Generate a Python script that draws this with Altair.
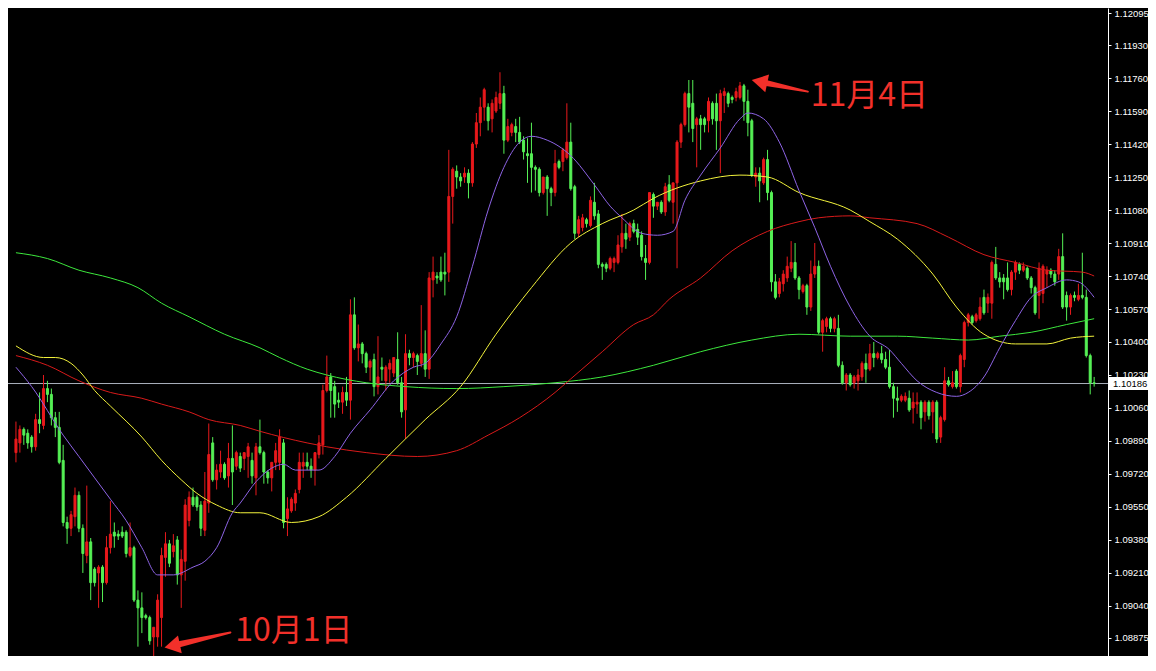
import altair as alt
import pandas as pd

# ---------------- candle data (EUR/USD style quotes) ----------------
open_ = [
    1.0983, 1.0988, 1.0995, 1.0993, 1.0991, 1.0986, 1.1000, 1.0997, 1.1016, 1.1013,
    1.1001, 1.0996, 1.0979, 1.0947, 1.0944, 1.0950, 1.0961, 1.0944, 1.0930, 1.0937,
    1.0923, 1.0921, 1.0924, 1.0916, 1.0934, 1.0942, 1.0941, 1.0942, 1.0942, 1.0930,
    1.0934, 1.0907, 1.0903, 1.0899, 1.0898, 1.0888, 1.0888, 1.0898, 1.0929, 1.0936,
    1.0932, 1.0938, 1.0920, 1.0927, 1.0948, 1.0960, 1.0960, 1.0956, 1.0943, 1.0957,
    1.0988, 1.0969, 1.0973, 1.0977, 1.0971, 1.0980, 1.0976, 1.0981, 1.0980, 1.0981,
    1.0979, 1.0970, 1.0986, 1.0983, 1.0973, 1.0970, 1.0978, 1.0978, 1.0988, 1.0949,
    1.0953, 1.0957, 1.0964, 1.0976, 1.0978, 1.0976, 1.0974, 1.0982, 1.0987, 1.1015,
    1.1022, 1.1017, 1.1010, 1.1009, 1.1014, 1.1010, 1.1054, 1.1037, 1.1039, 1.1034,
    1.1027, 1.1031, 1.1017, 1.1027, 1.1020, 1.1026, 1.1024, 1.1031, 1.1019, 1.1005,
    1.1034, 1.1032, 1.1033, 1.1029, 1.1034, 1.1026, 1.1072, 1.1074, 1.1076, 1.1076,
    1.1076, 1.1115, 1.1128, 1.1125, 1.1125, 1.1127, 1.1122, 1.1142, 1.1153, 1.1161,
    1.1161, 1.1155, 1.1159, 1.1163, 1.1168, 1.1144, 1.1148, 1.1151, 1.1148, 1.1144,
    1.1137, 1.1137, 1.1130, 1.1129, 1.1117, 1.1125, 1.1119, 1.1117, 1.1133, 1.1133,
    1.1135, 1.1143, 1.1120, 1.1096, 1.1099, 1.1103, 1.1100, 1.1112, 1.1106, 1.1080,
    1.1080, 1.1078, 1.1081, 1.1081, 1.1089, 1.1096, 1.1094, 1.1101, 1.1098, 1.1095,
    1.1083, 1.1081, 1.1116, 1.1110, 1.1112, 1.1107, 1.1121, 1.1112, 1.1122, 1.1143,
    1.1152, 1.1168, 1.1163, 1.1152, 1.1155, 1.1155, 1.1154, 1.1163, 1.1163, 1.1154,
    1.1167, 1.1168, 1.1166, 1.1166, 1.1166, 1.1172, 1.1164, 1.1154, 1.1125, 1.1127,
    1.1122, 1.1134, 1.1117, 1.1071, 1.1065, 1.1070, 1.1073, 1.1078, 1.1081, 1.1073,
    1.1066, 1.1069, 1.1058, 1.1075, 1.1079, 1.1045, 1.1048, 1.1052, 1.1047, 1.1047,
    1.1028, 1.1019, 1.1023, 1.1019, 1.1020, 1.1022, 1.1029, 1.1026, 1.1034, 1.1032,
    1.1034, 1.1031, 1.1027, 1.1017, 1.1011, 1.1010, 1.1010, 1.1011, 1.1006, 1.1008,
    1.1009, 1.1004, 1.1009, 1.1004, 1.1009, 1.0991, 1.1000, 1.1020, 1.1017, 1.1025,
    1.1017, 1.1031, 1.1050, 1.1053, 1.1051, 1.1052, 1.1063, 1.1060, 1.1060, 1.1080,
    1.1073, 1.1073, 1.1073, 1.1067, 1.1076, 1.1080, 1.1077, 1.1078, 1.1073, 1.1068,
    1.1064, 1.1065, 1.1075, 1.1077, 1.1075, 1.1075, 1.1084, 1.1064, 1.1058, 1.1064,
    1.1062, 1.1064, 1.1063, 1.1033, 1.1019,
]
high = [
    1.0999, 1.0997, 1.0996, 1.0995, 1.0992, 1.1003, 1.1014, 1.1023, 1.1020, 1.1016,
    1.1004, 1.1004, 1.0987, 1.0950, 1.0953, 1.0965, 1.0963, 1.0946, 1.0966, 1.0939,
    1.0924, 1.0925, 1.0925, 1.0940, 1.0958, 1.0947, 1.0943, 1.0945, 1.0943, 1.0947,
    1.0935, 1.0912, 1.0911, 1.0900, 1.0899, 1.0893, 1.0910, 1.0934, 1.0942, 1.0938,
    1.0941, 1.0940, 1.0933, 1.0959, 1.0963, 1.0965, 1.0961, 1.0958, 1.0973, 1.0998,
    1.0991, 1.0977, 1.0984, 1.0978, 1.0988, 1.0997, 1.0984, 1.0983, 1.0983, 1.0988,
    1.0983, 1.0988, 1.1000, 1.0984, 1.0974, 1.0978, 1.0988, 1.0995, 1.0990, 1.0960,
    1.0960, 1.0964, 1.0983, 1.0983, 1.0983, 1.0980, 1.0983, 1.0992, 1.1018, 1.1033,
    1.1024, 1.1020, 1.1014, 1.1017, 1.1022, 1.1062, 1.1063, 1.1049, 1.1040, 1.1035,
    1.1031, 1.1034, 1.1043, 1.1032, 1.1028, 1.1031, 1.1032, 1.1045, 1.1022, 1.1044,
    1.1036, 1.1035, 1.1034, 1.1059, 1.1046, 1.1076, 1.1084, 1.1076, 1.1084, 1.1086,
    1.1139, 1.1130, 1.1131, 1.1127, 1.1130, 1.1129, 1.1143, 1.1158, 1.1166, 1.1171,
    1.1163, 1.1165, 1.1169, 1.1179, 1.1172, 1.1155, 1.1153, 1.1155, 1.1156, 1.1146,
    1.1145, 1.1153, 1.1131, 1.1130, 1.1125, 1.1126, 1.1120, 1.1139, 1.1134, 1.1140,
    1.1163, 1.1153, 1.1121, 1.1105, 1.1106, 1.1104, 1.1115, 1.1122, 1.1108, 1.1081,
    1.1081, 1.1084, 1.1084, 1.1095, 1.1106, 1.1101, 1.1102, 1.1103, 1.1101, 1.1097,
    1.1090, 1.1117, 1.1117, 1.1112, 1.1113, 1.1122, 1.1126, 1.1122, 1.1144, 1.1153,
    1.1169, 1.1175, 1.1175, 1.1156, 1.1157, 1.1156, 1.1166, 1.1164, 1.1168, 1.1170,
    1.1171, 1.1169, 1.1167, 1.1171, 1.1174, 1.1173, 1.1170, 1.1155, 1.1130, 1.1130,
    1.1135, 1.1139, 1.1118, 1.1075, 1.1073, 1.1077, 1.1084, 1.1092, 1.1091, 1.1074,
    1.1070, 1.1070, 1.1082, 1.1091, 1.1082, 1.1052, 1.1053, 1.1053, 1.1053, 1.1054,
    1.1030, 1.1024, 1.1024, 1.1023, 1.1026, 1.1030, 1.1034, 1.1039, 1.1040, 1.1035,
    1.1038, 1.1035, 1.1036, 1.1019, 1.1017, 1.1013, 1.1014, 1.1015, 1.1014, 1.1014,
    1.1010, 1.1010, 1.1010, 1.1010, 1.1010, 1.1002, 1.1027, 1.1022, 1.1025, 1.1026,
    1.1034, 1.1051, 1.1055, 1.1054, 1.1055, 1.1063, 1.1067, 1.1065, 1.1082, 1.1089,
    1.1076, 1.1075, 1.1081, 1.1077, 1.1082, 1.1081, 1.1081, 1.1079, 1.1074, 1.1069,
    1.1081, 1.1080, 1.1079, 1.1078, 1.1077, 1.1088, 1.1096, 1.1066, 1.1065, 1.1066,
    1.1070, 1.1086, 1.1067, 1.1034, 1.1022,
]
low = [
    1.0978, 1.0983, 1.0987, 1.0985, 1.0983, 1.0984, 1.0993, 1.0995, 1.1009, 1.0997,
    1.0991, 1.0977, 1.0945, 1.0936, 1.0940, 1.0945, 1.0942, 1.0921, 1.0926, 1.0907,
    1.0914, 1.0903, 1.0906, 1.0915, 1.0931, 1.0934, 1.0938, 1.0939, 1.0929, 1.0929,
    1.0906, 1.0883, 1.0890, 1.0897, 1.0884, 1.0877, 1.0883, 1.0883, 1.0919, 1.0924,
    1.0929, 1.0915, 1.0903, 1.0917, 1.0945, 1.0955, 1.0953, 1.0940, 1.0940, 1.0952,
    1.0968, 1.0964, 1.0970, 1.0969, 1.0965, 1.0956, 1.0974, 1.0973, 1.0974, 1.0970,
    1.0967, 1.0961, 1.0982, 1.0967, 1.0967, 1.0963, 1.0974, 1.0974, 1.0944, 1.0940,
    1.0952, 1.0953, 1.0962, 1.0970, 1.0974, 1.0970, 1.0966, 1.0980, 1.0982, 1.1014,
    1.1001, 1.1001, 1.1006, 1.1003, 1.1007, 1.1000, 1.1036, 1.1030, 1.1029, 1.1024,
    1.1020, 1.1012, 1.1013, 1.1020, 1.1015, 1.1019, 1.1022, 1.1018, 1.1001, 1.0990,
    1.1028, 1.1027, 1.1023, 1.1027, 1.1022, 1.1021, 1.1063, 1.1070, 1.1071, 1.1064,
    1.1071, 1.1101, 1.1119, 1.1120, 1.1122, 1.1114, 1.1120, 1.1140, 1.1146, 1.1154,
    1.1149, 1.1148, 1.1158, 1.1160, 1.1137, 1.1143, 1.1146, 1.1143, 1.1142, 1.1134,
    1.1122, 1.1117, 1.1118, 1.1115, 1.1116, 1.1105, 1.1110, 1.1115, 1.1129, 1.1128,
    1.1134, 1.1118, 1.1093, 1.1094, 1.1097, 1.1099, 1.1099, 1.1103, 1.1078, 1.1072,
    1.1076, 1.1077, 1.1076, 1.1080, 1.1086, 1.1088, 1.1092, 1.1096, 1.1090, 1.1082,
    1.1072, 1.1080, 1.1104, 1.1108, 1.1106, 1.1105, 1.1112, 1.1101, 1.1078, 1.1140,
    1.1151, 1.1148, 1.1143, 1.1130, 1.1139, 1.1148, 1.1148, 1.1152, 1.1139, 1.1127,
    1.1158, 1.1161, 1.1163, 1.1164, 1.1165, 1.1154, 1.1146, 1.1125, 1.1120, 1.1112,
    1.1121, 1.1113, 1.1066, 1.1062, 1.1063, 1.1066, 1.1071, 1.1076, 1.1072, 1.1062,
    1.1065, 1.1054, 1.1056, 1.1073, 1.1044, 1.1035, 1.1045, 1.1045, 1.1045, 1.1027,
    1.1018, 1.1015, 1.1017, 1.1016, 1.1015, 1.1020, 1.1019, 1.1025, 1.1027, 1.1031,
    1.1029, 1.1026, 1.1016, 1.1001, 1.1004, 1.1009, 1.1009, 1.1004, 1.0998, 1.1003,
    1.0995, 1.0999, 1.1000, 1.0993, 1.0988, 1.0988, 1.0999, 1.1017, 1.1016, 1.1016,
    1.1014, 1.1027, 1.1048, 1.1049, 1.1050, 1.1051, 1.1054, 1.1055, 1.1052, 1.1072,
    1.1068, 1.1062, 1.1066, 1.1064, 1.1072, 1.1075, 1.1076, 1.1072, 1.1065, 1.1054,
    1.1052, 1.1060, 1.1068, 1.1073, 1.1069, 1.1072, 1.1057, 1.1051, 1.1054, 1.1061,
    1.1061, 1.1062, 1.1032, 1.1013, 1.1017,
]
close = [
    1.0990, 1.0995, 1.0992, 1.0988, 1.0986, 1.1000, 1.0998, 1.1016, 1.1013, 1.1001,
    1.0996, 1.0978, 1.0947, 1.0944, 1.0951, 1.0961, 1.0944, 1.0931, 1.0937, 1.0916,
    1.0916, 1.0924, 1.0916, 1.0934, 1.0941, 1.0940, 1.0940, 1.0940, 1.0931, 1.0934,
    1.0907, 1.0903, 1.0898, 1.0898, 1.0886, 1.0893, 1.0907, 1.0930, 1.0936, 1.0926,
    1.0935, 1.0920, 1.0928, 1.0956, 1.0960, 1.0956, 1.0955, 1.0944, 1.0958, 1.0982,
    1.0969, 1.0974, 1.0977, 1.0970, 1.0980, 1.0973, 1.0983, 1.0975, 1.0983, 1.0986,
    1.0971, 1.0986, 1.0983, 1.0973, 1.0970, 1.0978, 1.0984, 1.0991, 1.0947, 1.0954,
    1.0959, 1.0962, 1.0978, 1.0978, 1.0976, 1.0974, 1.0983, 1.0988, 1.1015, 1.1022,
    1.1015, 1.1008, 1.1009, 1.1014, 1.1010, 1.1054, 1.1037, 1.1039, 1.1034, 1.1027,
    1.1030, 1.1017, 1.1022, 1.1026, 1.1027, 1.1029, 1.1032, 1.1019, 1.1004, 1.1034,
    1.1032, 1.1034, 1.1030, 1.1034, 1.1026, 1.1073, 1.1076, 1.1073, 1.1072, 1.1075,
    1.1115, 1.1129, 1.1125, 1.1123, 1.1127, 1.1122, 1.1142, 1.1153, 1.1161, 1.1170,
    1.1154, 1.1163, 1.1166, 1.1168, 1.1144, 1.1151, 1.1152, 1.1148, 1.1143, 1.1138,
    1.1136, 1.1130, 1.1129, 1.1117, 1.1125, 1.1119, 1.1117, 1.1132, 1.1130, 1.1139,
    1.1143, 1.1119, 1.1096, 1.1103, 1.1104, 1.1101, 1.1113, 1.1105, 1.1080, 1.1079,
    1.1078, 1.1083, 1.1083, 1.1090, 1.1096, 1.1093, 1.1101, 1.1097, 1.1094, 1.1084,
    1.1081, 1.1117, 1.1110, 1.1112, 1.1107, 1.1120, 1.1113, 1.1122, 1.1143, 1.1152,
    1.1168, 1.1161, 1.1150, 1.1155, 1.1152, 1.1152, 1.1164, 1.1155, 1.1154, 1.1168,
    1.1169, 1.1163, 1.1165, 1.1169, 1.1172, 1.1164, 1.1153, 1.1126, 1.1127, 1.1123,
    1.1134, 1.1117, 1.1071, 1.1063, 1.1071, 1.1075, 1.1079, 1.1081, 1.1073, 1.1067,
    1.1069, 1.1058, 1.1075, 1.1079, 1.1045, 1.1051, 1.1052, 1.1047, 1.1052, 1.1028,
    1.1019, 1.1023, 1.1018, 1.1022, 1.1023, 1.1029, 1.1026, 1.1034, 1.1032, 1.1034,
    1.1031, 1.1027, 1.1017, 1.1011, 1.1010, 1.1012, 1.1012, 1.1005, 1.1009, 1.1009,
    1.1001, 1.1009, 1.1002, 1.1009, 1.0990, 1.1001, 1.1020, 1.1018, 1.1019, 1.1017,
    1.1033, 1.1050, 1.1054, 1.1050, 1.1054, 1.1058, 1.1055, 1.1063, 1.1081, 1.1073,
    1.1071, 1.1071, 1.1067, 1.1076, 1.1081, 1.1077, 1.1079, 1.1073, 1.1068, 1.1055,
    1.1078, 1.1079, 1.1077, 1.1075, 1.1071, 1.1084, 1.1058, 1.1058, 1.1064, 1.1063,
    1.1064, 1.1063, 1.1033, 1.1019, 1.10186,
]

# ---------------- moving averages ----------------
ma_purple_i = [0, 4, 12, 16, 20, 24, 28, 32, 36, 40, 45, 48, 51, 55, 57, 61, 65, 68, 71, 77,
               81, 85, 90, 96, 101, 104, 108, 112, 116, 120, 124, 128, 131, 135, 141, 147, 151, 154, 159, 163,
               167, 170, 174, 179, 184, 186, 190, 194, 199, 203, 207, 212, 217, 222, 225, 229, 234, 239, 242, 246,
               250, 254, 258, 262, 267, 270, 274]
ma_purple = [1.1027, 1.1017, 1.0992, 1.0981, 1.0970, 1.0959, 1.0948, 1.0934, 1.0920, 1.0920,
             1.0924, 1.0927, 1.0934, 1.0952, 1.0957, 1.0968, 1.0975, 1.0977, 1.0974, 1.0974,
             1.0981, 1.0993, 1.1005, 1.1020, 1.1027, 1.1029, 1.1039, 1.1053, 1.1079, 1.1108,
             1.1130, 1.1143, 1.1146, 1.1144, 1.1136, 1.1121, 1.1110, 1.1104, 1.1096, 1.1095,
             1.1097, 1.1113, 1.1126, 1.1140, 1.1155, 1.1158, 1.1155, 1.1143, 1.1118, 1.1099,
             1.1079, 1.1058, 1.1043, 1.1036, 1.1029, 1.1020, 1.1014, 1.1012, 1.1014, 1.1022,
             1.1037, 1.1051, 1.1063, 1.1068, 1.1072, 1.1071, 1.1063]

ma_yellow_i = [0, 7, 10, 14, 17, 20, 24, 32, 37, 42, 46, 51, 57, 62, 70, 77, 84, 94, 104, 113,
               122, 131, 141, 149, 157, 162, 174, 184, 191, 199, 212, 217, 224, 233, 239, 246, 254, 262, 268, 274]
ma_yellow = [1.1038, 1.1032, 1.1032, 1.1029, 1.1023, 1.1015, 1.1007, 1.0991, 1.0979, 1.0969,
             1.0962, 1.0956, 1.0952, 1.0952, 1.0947, 1.0950, 1.0960, 1.0980, 1.1000, 1.1017,
             1.1044, 1.1068, 1.1091, 1.1101, 1.1108, 1.1114, 1.1123, 1.1126, 1.1125, 1.1117,
             1.1108, 1.1102, 1.1093, 1.1075, 1.1058, 1.1044, 1.1039, 1.1039, 1.1042, 1.1043]

ma_red_i = [0, 8, 16, 24, 32, 37, 44, 49, 57, 62, 74, 79, 89, 102, 112, 120, 128, 137, 141, 149,
            157, 162, 166, 174, 182, 191, 199, 204, 212, 217, 229, 237, 246, 254, 262, 271, 274]
ma_red = [1.1033, 1.1028, 1.1020, 1.1014, 1.1011, 1.1008, 1.1004, 1.1000, 1.0997, 1.0994,
          1.0988, 1.0986, 1.0983, 1.0981, 1.0984, 1.0992, 1.1001, 1.1014, 1.1021, 1.1035,
          1.1049, 1.1054, 1.1062, 1.1073, 1.1087, 1.1097, 1.1102, 1.1104, 1.1105, 1.1104,
          1.1101, 1.1094, 1.1085, 1.1081, 1.1077, 1.1076, 1.1074]

ma_green_i = [0, 8, 16, 24, 31, 37, 44, 53, 62, 67, 74, 79, 89, 99, 112, 124, 137, 149, 162, 174,
              187, 199, 212, 224, 233, 242, 250, 258, 267, 274]
ma_green = [1.1086, 1.1083, 1.1077, 1.1073, 1.1068, 1.1060, 1.1053, 1.1044, 1.1037, 1.1032,
            1.1026, 1.1023, 1.1019, 1.1017, 1.1016, 1.1017, 1.1019, 1.1022, 1.1028, 1.1035,
            1.1041, 1.1044, 1.1043, 1.1043, 1.1042, 1.1041, 1.1043, 1.1045, 1.1049, 1.1052]

# ---------------- axis / annotations ----------------
tick_values = [1.12095, 1.11930, 1.11760, 1.11590, 1.11420, 1.11250, 1.11080, 1.10910,
               1.10740, 1.10570, 1.10400, 1.10230, 1.10060, 1.09890, 1.09720, 1.09550,
               1.09380, 1.09210, 1.09040, 1.08875]
last_price = 1.10186
last_label = "1.10186"
y_domain = [1.08782, 1.12121]
x_domain = [-0.75, 276.25]

note_labels = ["10月1日", "11月4日"]
note_i = [55.75, 202.0]
note_p = [1.0891, 1.11667]

arrow_id = ["a", "a", "b", "b"]
arrow_i = [41.75, 54.5, 190.75, 201.25]
arrow_p = [1.08844, 1.08903, 1.11734, 1.11690]
arrow_w = [6, 2, 6, 2]
head_i = [39.7, 188.95]
head_p = [1.08834, 1.11741]
head_angle = [348, 12]

RED = "#e8191c"
GREEN = "#55f055"
NOTE_RED = "#f2302a"

candles = pd.DataFrame({"i": list(range(len(close))), "open": open_, "high": high,
                        "low": low, "close": close})
candles["dir"] = ["up" if c > o else "down" for o, c in zip(open_, close)]

xs = alt.Scale(domain=x_domain, nice=False, zero=False)
ys = alt.Scale(domain=y_domain, nice=False, zero=False)
yaxis = alt.Axis(orient="right", values=tick_values, format=".5f", labelColor="#ffffff",
                 labelFont="Liberation Sans", labelFontSize=9.5, labelPadding=3,
                 tickColor="#ffffff", tickSize=3, domainColor="#ffffff", domainWidth=1,
                 grid=False, title=None, labelOverlap=False)


def X(field="i"):
    return alt.X(f"{field}:Q", scale=xs, axis=None)


def Y(field):
    return alt.Y(f"{field}:Q", scale=ys, axis=yaxis)


dir_scale = alt.Scale(domain=["up", "down"], range=[RED, GREEN])

price_df = pd.DataFrame({"p": [last_price], "top": [last_price + 0.00033],
                         "bot": [last_price - 0.00033], "label": [last_label]})

price_line = alt.Chart(price_df).mark_rule(color="#a9b0bc", strokeWidth=1).encode(y=Y("p"))

wicks = alt.Chart(candles).mark_rule(strokeWidth=1, clip=True).encode(
    x=X(), y=Y("low"), y2="high",
    color=alt.Color("dir:N", scale=dir_scale, legend=None))

bodies = alt.Chart(candles).mark_bar(size=2, strokeWidth=1, clip=True).encode(
    x=X(), y=Y("open"), y2="close",
    color=alt.Color("dir:N", scale=dir_scale, legend=None),
    stroke=alt.Stroke("dir:N", scale=dir_scale, legend=None))


def ma_layer(idx, vals, col):
    df = pd.DataFrame({"i": idx, "v": vals})
    return alt.Chart(df).mark_line(color=col, strokeWidth=1, interpolate="monotone",
                                   clip=True).encode(x=X(), y=Y("v"))


lines = [ma_layer(ma_green_i, ma_green, "#3de83d"),
         ma_layer(ma_red_i, ma_red, "#d81a1a"),
         ma_layer(ma_yellow_i, ma_yellow, "#f4f43c"),
         ma_layer(ma_purple_i, ma_purple, "#8e64e6")]

box = alt.Chart(price_df).mark_rect(color="#ffffff").encode(
    x=alt.value(1101), x2=alt.value(1140), y=Y("top"), y2="bot")
box_text = alt.Chart(price_df).mark_text(align="left", baseline="middle", color="#000000",
                                         font="Liberation Sans", fontSize=9.5).encode(
    x=alt.value(1105), y=Y("p"), text="label:N")

notes_df = pd.DataFrame({"i": note_i, "p": note_p, "label": note_labels})
notes = alt.Chart(notes_df).mark_text(align="left", baseline="middle", color=NOTE_RED,
                                      font="Noto Sans CJK SC", fontSize=32).encode(
    x=X(), y=Y("p"), text="label:N")

arrows_df = pd.DataFrame({"a": arrow_id, "i": arrow_i, "p": arrow_p, "w": arrow_w})
shafts = alt.Chart(arrows_df).mark_trail(color=NOTE_RED).encode(
    x=X(), y=Y("p"), size=alt.Size("w:Q", scale=None), detail="a:N", order="i:Q")

heads_df = pd.DataFrame({"i": head_i, "p": head_p, "ang": head_angle})
heads = alt.Chart(heads_df).mark_point(shape="triangle-left", filled=True, size=330,
                                       opacity=1, color=NOTE_RED).encode(
    x=X(), y=Y("p"), angle=alt.Angle("ang:Q", scale=None))

chart = alt.layer(price_line, wicks, bodies, *lines, box, box_text, shafts, heads, notes).properties(
    width=1100, height=648,
    padding={"left": 0, "top": 0, "right": 40, "bottom": 0},
    autosize=alt.AutoSizeParams(type="none"),
    background="#000000",
).configure_view(stroke=None)

chart.save("out.html", embed_options={"renderer": "svg", "actions": False})
